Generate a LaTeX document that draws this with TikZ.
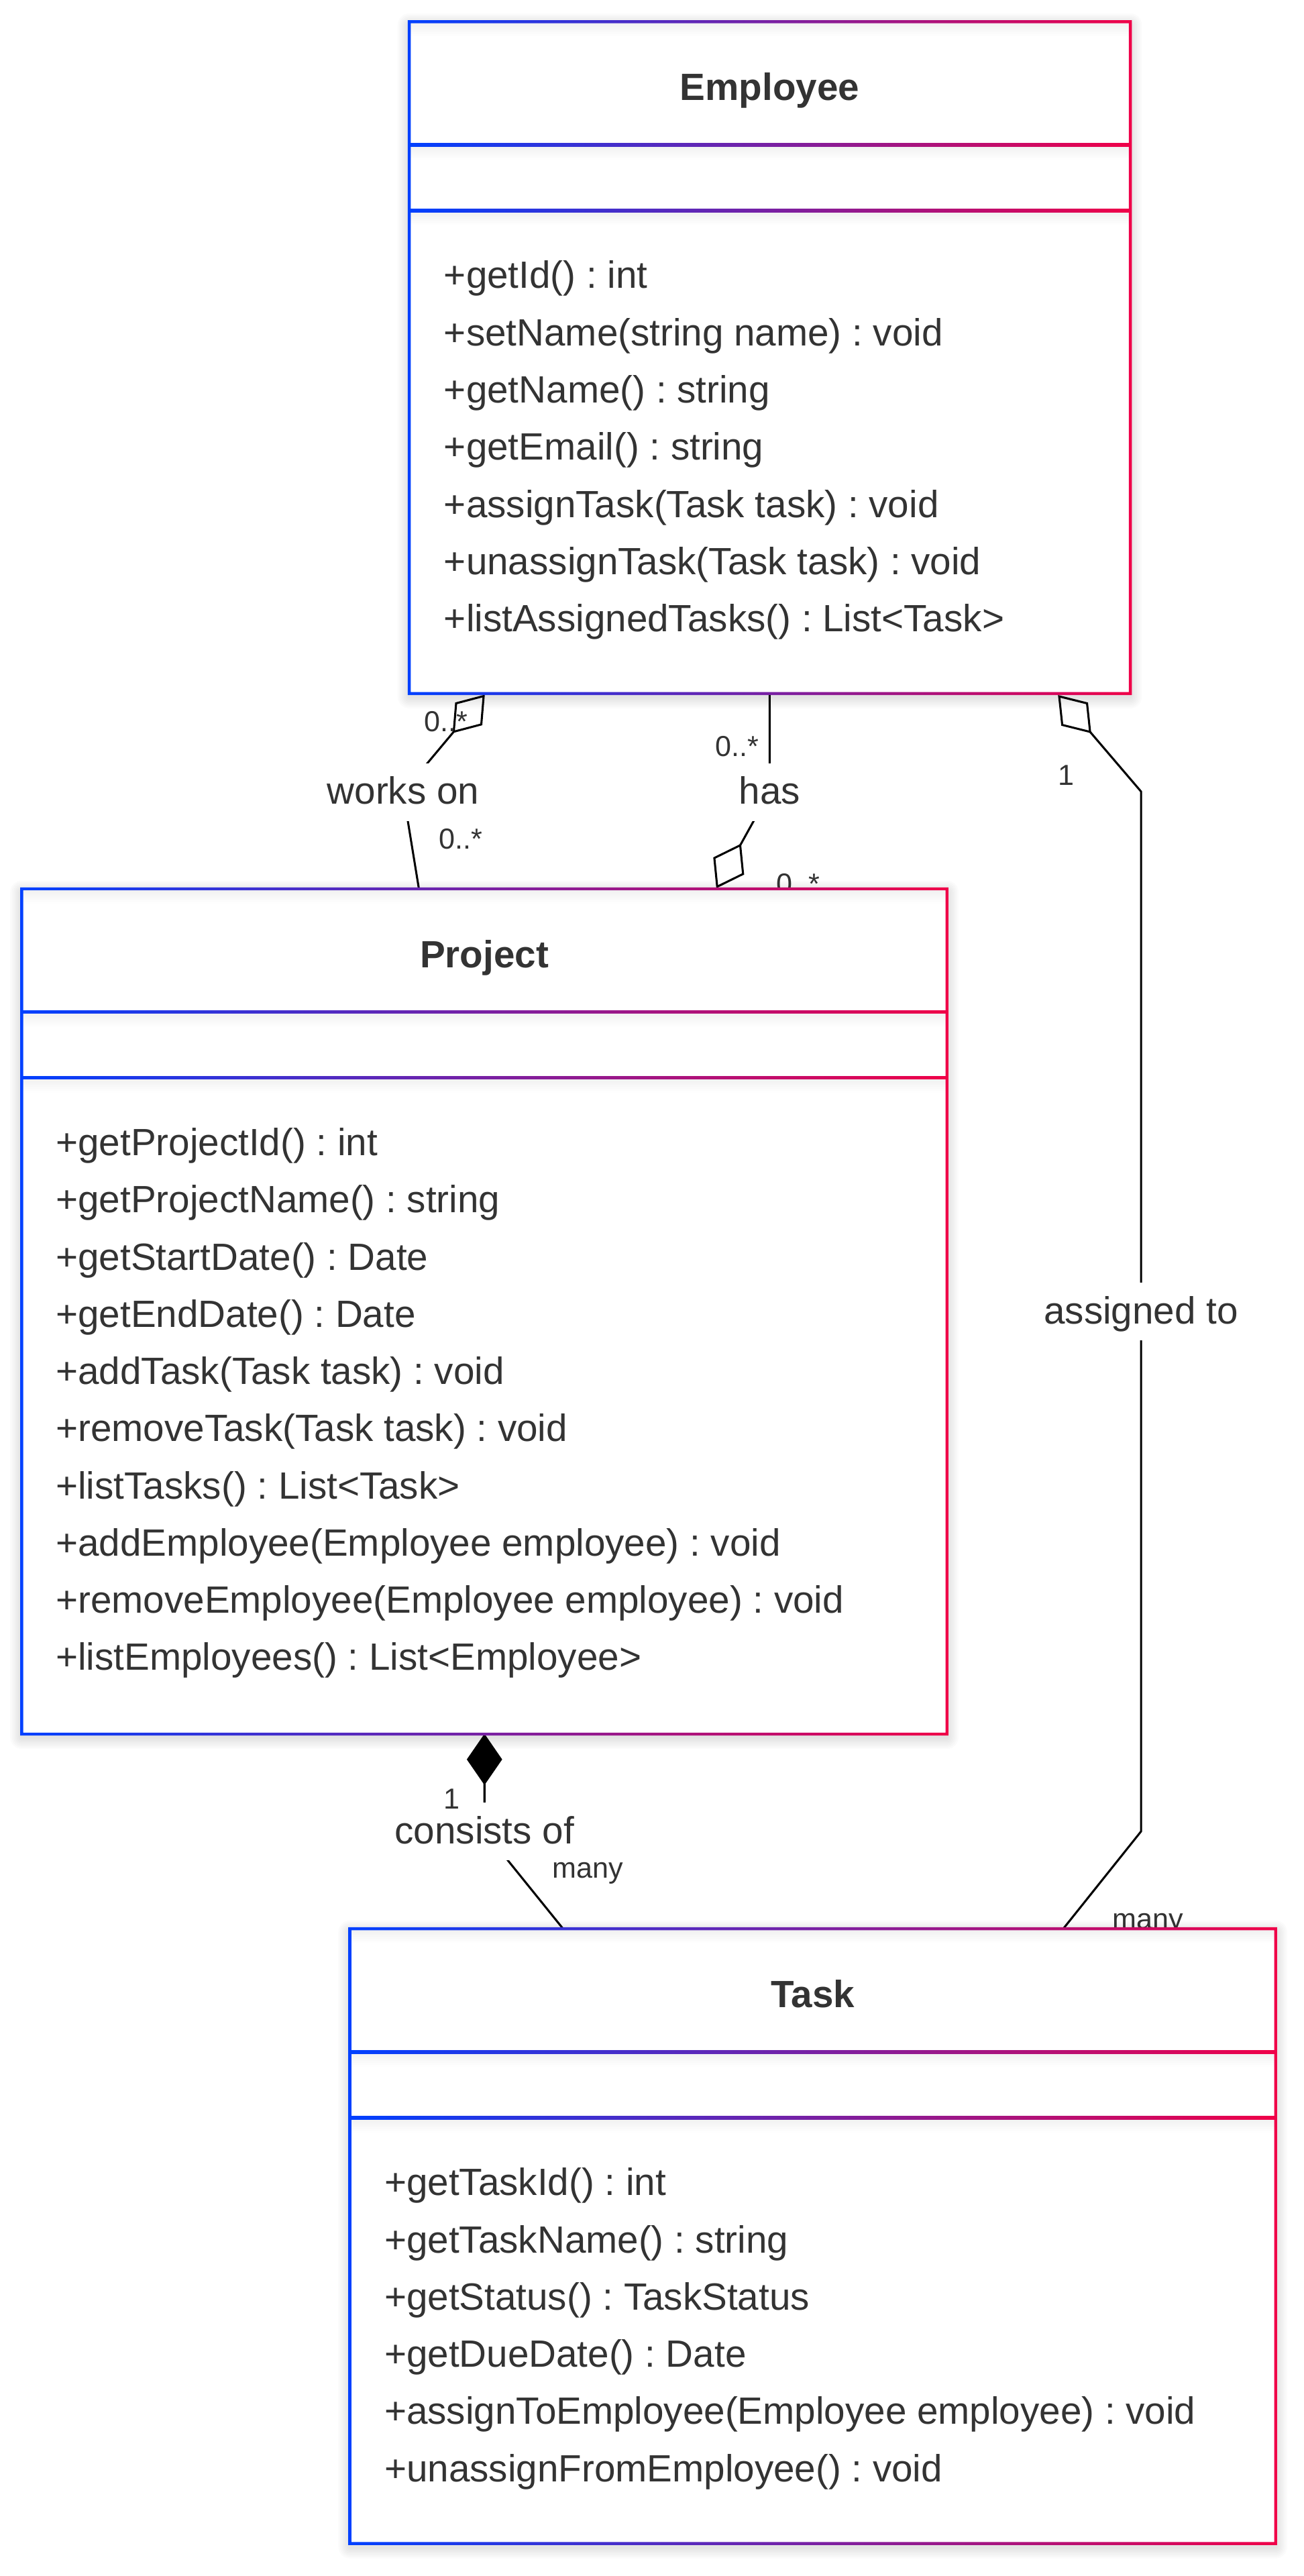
\documentclass[tikz,border=0pt]{standalone}
\usepackage{fontspec}
\setmainfont{Liberation Sans}
\usetikzlibrary{calc}
\frenchspacing
\definecolor{cblue}{RGB}{0,64,255}
\definecolor{cred}{RGB}{240,0,72}
\definecolor{txt}{RGB}{51,51,51}
\tikzset{
  box/.style={draw=none, inner sep=0pt, outer sep=0pt},
  mtext/.style={anchor=base west, inner sep=0pt, text=txt, font=\fontsize{23.1}{27}\selectfont},
  ttext/.style={anchor=base, inner sep=0pt, text=txt, font=\fontsize{23.1}{27}\selectfont\bfseries},
  elabel/.style={fill=white, inner xsep=1pt, inner ysep=0pt, text height=25pt, text depth=10.3pt, text=txt, font=\fontsize{23.1}{27}\selectfont},
  mult/.style={anchor=base, inner sep=0pt, text=txt, font=\fontsize{17.6}{20}\selectfont},
  conn/.style={draw=black, line width=1.25pt, line join=miter},
}
\newcommand\umldiamond[3]{%
  \coordinate (dmid) at ($(#1)!0.5!(#2)$);
  \draw[conn, fill=#3] (#1) -- ($(dmid)!10pt!90:(#2)$) -- (#2) -- ($(dmid)!10pt!-90:(#2)$) -- cycle;}
\newcommand\classbox[1]{%
  \foreach \k in {1,...,7}{\fill[black, opacity=0.016, rounded corners=\k pt] ($(#1.north west)+(-\k,-\k+2)$) rectangle ($(#1.south east)+(\k,\k+2)$);}
  \fill[white] (#1.north west) rectangle (#1.south east);
  \foreach \dd in {0,75,115}{\shade[top color=black!6, bottom color=white] ($(#1.north west)+(0.8,\dd)$) rectangle ($(#1.north east)+(-0.8,\dd+9)$);}
  \shade[left color=cblue, right color=cred, even odd rule]
    ($(#1.north west)+(-0.9,-0.9)$) rectangle ($(#1.south east)+(0.9,0.9)$)
    ($(#1.north west)+(0.9,0.9)$) rectangle ($(#1.south east)+(-0.9,-0.9)$);
  \foreach \dd in {75,115}{\shade[left color=cblue, right color=cred] ($(#1.north west)+(0,\dd-0.9)$) rectangle ($(#1.north east)+(0,\dd+0.9)$);}
}
\begin{document}
\begin{tikzpicture}[x=1pt, y=-1pt]
\useasboundingbox (0,0) rectangle (793.06,1567.35);
\fill[white] (0,0) rectangle (793.06,1567.35);

% class box frames (named nodes)
\node[box, minimum width=438.8pt, minimum height=408.8pt] (emp) at (468.4,217.6) {};
\node[box, minimum width=563pt, minimum height=514.3pt] (proj) at (294.7,797.95) {};
\node[box, minimum width=563.3pt, minimum height=374.1pt] (task) at (494.55,1360.55) {};

% connector end points
\coordinate (wA) at ($(emp.south west)+(45.3,1.5)$);
\coordinate (wT) at ($(emp.south west)+(27.1,23.2)$);
\coordinate (wL) at (245.3,482);
\coordinate (wB) at ($(proj.north west)+(241.7,0)$);

\coordinate (hA) at ($(emp.south west)+(219.3,0)$);
\coordinate (hL) at (468.3,482);
\coordinate (hT) at ($(proj.north west)+(437.2,-26.5)$);
\coordinate (hB) at ($(proj.north west)+(423.2,-1.3)$);

\coordinate (aA) at ($(emp.south west)+(395.5,1.7)$);
\coordinate (aT) at ($(emp.south west)+(414.3,23.3)$);
\coordinate (aK1) at (694.3,481.6);
\coordinate (aL) at (694.3,798);
\coordinate (aK2) at (694.3,1114.3);
\coordinate (aB) at ($(task.north west)+(434.1,0)$);

\coordinate (cA) at ($(proj.south west)+(281.6,0.9)$);
\coordinate (cT) at ($(proj.south west)+(281.6,29.9)$);
\coordinate (cL) at (294.8,1114.3);
\coordinate (cB) at ($(task.north west)+(129.7,0)$);

% connectors
\draw[conn] (wT) -- (wL) -- (wB);
\umldiamond{wA}{wT}{white}
\draw[conn] (hA) -- (hL) -- (hT);
\umldiamond{hB}{hT}{white}
\draw[conn] (aT) -- (aK1) -- (aL) -- (aK2) -- (aB);
\umldiamond{aA}{aT}{white}
\draw[conn] (cT) -- (cL) -- (cB);
\umldiamond{cA}{cT}{black}

% edge labels
\node[elabel] (lworks) at (wL) {works on};
\node[elabel] (lhas) at (hL) {has};
\node[elabel] (lassign) at (aL) {assigned to};
\node[elabel] (lcons) at (cL) {consists of};

% multiplicities
\node[mult] (m1) at (271.2,445.2) {0..*};
\node[mult] (m2) at (280.3,516.6) {0..*};
\node[mult] (m3) at (448.7,460.3) {0..*};
\node[mult] (m4) at (485.7,543.8) {0..*};
\node[mult] (m5) at (648.6,477.8) {1};
\node[mult] (m6) at (698.6,1173.5) {many};
\node[mult] (m7) at (274.8,1100.7) {1};
\node[mult] (m8) at (357.8,1142.5) {many};

% boxes
\classbox{emp}
\classbox{proj}
\classbox{task}

% Employee
\node[ttext] (empT) at ($(emp.north)+(0,47.8)$) {Employee};
\foreach \t [count=\i from 0] in {{+getId() : int},{+setName(string name) : void},{+getName() : string},{+getEmail() : string},{+assignTask(Task task) : void},{+unassignTask(Task task) : void},{+listAssignedTasks() : List<Task>}}
  \node[mtext] (emp-m\i) at ($(emp.north west)+(21,162.3+34.8*\i)$) {\t};

% Project
\node[ttext] (projT) at ($(proj.north)+(0,47.8)$) {Project};
\foreach \t [count=\i from 0] in {{+getProjectId() : int},{+getProjectName() : string},{+getStartDate() : Date},{+getEndDate() : Date},{+addTask(Task task) : void},{+removeTask(Task task) : void},{+listTasks() : List<Task>},{+addEmployee(Employee employee) : void},{+removeEmployee(Employee employee) : void},{+listEmployees() : List<Employee>}}
  \node[mtext] (proj-m\i) at ($(proj.north west)+(20.6,162.3+34.8*\i)$) {\t};

% Task
\node[ttext] (taskT) at ($(task.north)+(0,47.8)$) {Task};
\foreach \t [count=\i from 0] in {{+getTaskId() : int},{+getTaskName() : string},{+getStatus() : TaskStatus},{+getDueDate() : Date},{+assignToEmployee(Employee employee) : void},{+unassignFromEmployee() : void}}
  \node[mtext] (task-m\i) at ($(task.north west)+(20.8,162.3+34.8*\i)$) {\t};
\end{tikzpicture}
\end{document}
